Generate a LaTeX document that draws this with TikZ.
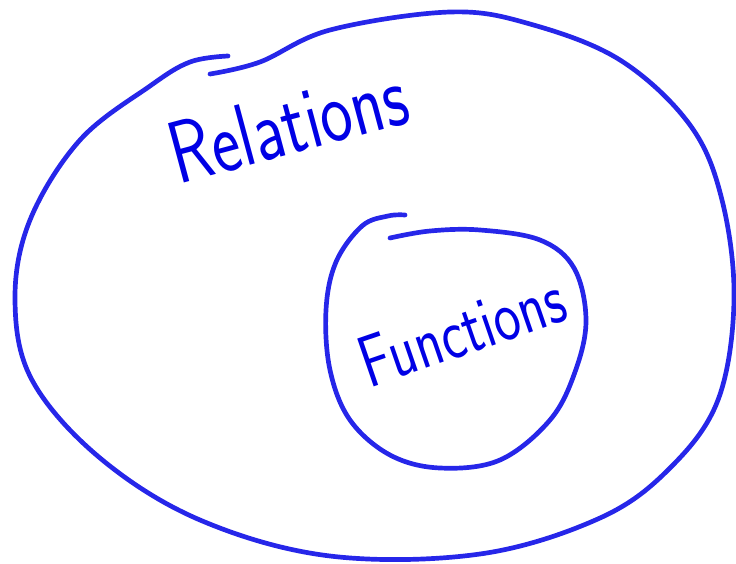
\documentclass[tikz,border=0pt]{standalone}
\begin{document}
\begin{tikzpicture}[x=0.03cm,y=-0.03cm,
  ink/.style={draw=blue!90!black, line width=4pt, line cap=round, line join=round, opacity=0.85},
  hand/.style={text=blue!90!black, inner sep=0pt}]
\useasboundingbox (0,0) rectangle (736,563);
% outer blob (Relations)
\draw[ink] plot[smooth, tension=0.6] coordinates {
 (210,74) (260,62) (330,30) (450,12) (530,24) (620,60) (690,125) (722,200)
 (734,300) (718,400) (670,468) (600,518) (480,554) (330,556) (200,520)
 (100,458) (32,380) (15,300) (30,220) (80,140) (150,86) (190,62) (228,56)};
% inner blob (Functions)
\draw[ink] plot[smooth, tension=0.6] coordinates {
 (390,238) (430,231) (480,230) (540,240) (574,268) (586,320) (575,372)
 (550,420) (500,460) (440,468) (390,455) (350,420) (330,370) (326,310)
 (336,262) (362,226) (388,216) (405,215)};
\node[hand, rotate=15] (rel) at (288,124)
  {\scalebox{1}[1.3]{\fontsize{58}{58}\selectfont\sffamily Relations}};
\node[hand, rotate=19] (fun) at (462,330)
  {\scalebox{1}[1.3]{\fontsize{48}{48}\selectfont\sffamily Functions}};
\end{tikzpicture}
\end{document}
